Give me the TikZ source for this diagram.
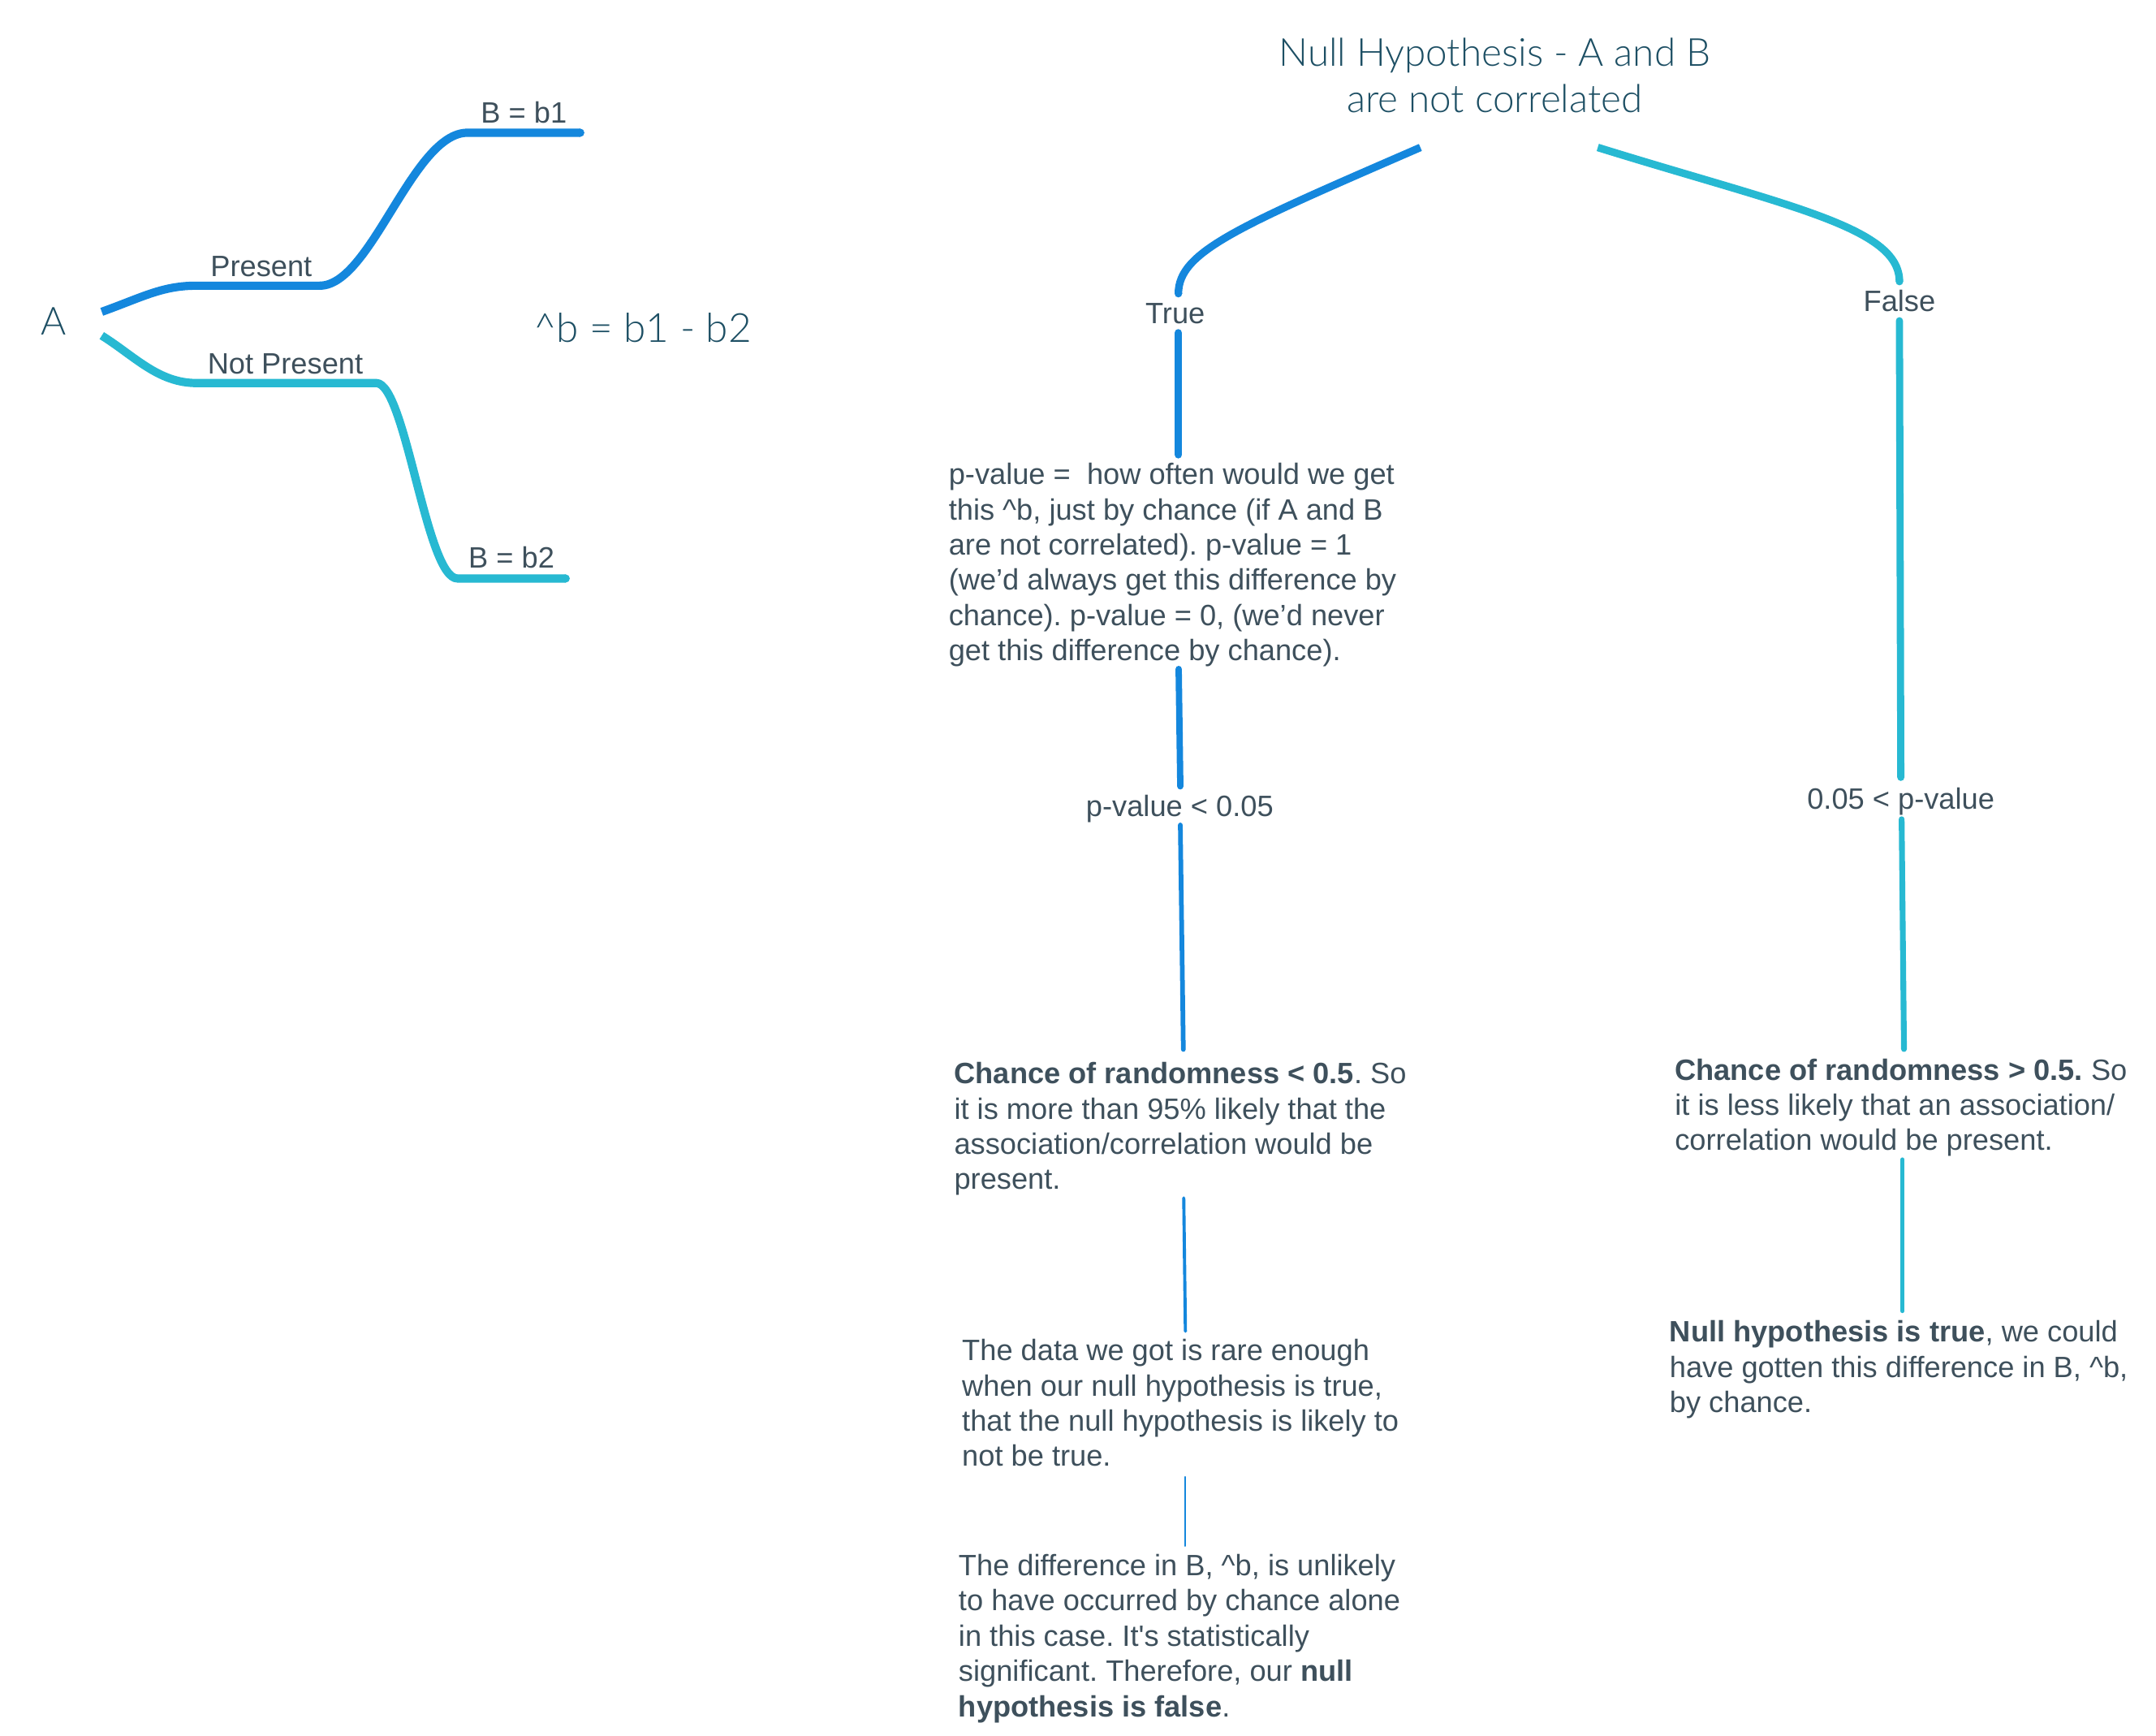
\documentclass[tikz,border=0pt]{standalone}
\usepackage{fontspec}
\setmainfont{Liberation Sans}
\IfFontExistsTF{Lato Light}
  {\newfontfamily\lightfont{Lato Light}}
  {\newfontfamily\lightfont{Liberation Sans}}
\usetikzlibrary{calc}
\frenchspacing

\definecolor{branchblue}{HTML}{1487DD}
\definecolor{branchcyan}{HTML}{27B9D2}
\definecolor{labelgray}{HTML}{3E505C}
\definecolor{headteal}{HTML}{1D4F64}

\begin{document}
\begin{tikzpicture}[x=1pt,y=-1pt,
  lbl/.style={inner sep=0pt, outer sep=0pt, text=labelgray,
              font=\fontsize{21.4}{25.6}\selectfont},
  para/.style={lbl, align=left, anchor=north west},
  head/.style={inner sep=0pt, outer sep=0pt, text=headteal,
               font=\lightfont\fontsize{28.1}{33.5}\selectfont},
  bblue/.style={draw=branchblue, line cap=round, line join=round},
  bcyan/.style={draw=branchcyan, line cap=round, line join=round},
]
\useasboundingbox[fill=white] (0,0) rectangle (1568,1262);

% ---------- left mind map: A -> Present / Not Present ----------
\node[head, anchor=base] (a) at (38.9,243.6) {A};
\node[lbl, anchor=base] (present) at (190,201) {Present};
\node[lbl, anchor=base] (notpresent) at (207.5,272.1) {Not Present};
\node[lbl, anchor=base] (bone) at (381,89.7) {B = b1};
\node[lbl, anchor=base] (btwo) at (372,413) {B = b2};
\node[head, anchor=base west, font=\lightfont\fontsize{29.2}{34}\selectfont]
  (bhat) at (388,248.9) {\textasciicircum b = b1 - b2};

\coordinate (aup)   at ($(a.base)+(35.1,-16.9)$);
\coordinate (adown) at ($(a.base)+(35.1,0.4)$);

\draw[bblue, line width=6pt, line cap=butt]
  (aup) .. controls +(30,-10.8) and +(-25,0) .. ($(present.base)+(-47,6.7)$)
  -- ($(present.base)+(42.6,6.7)$)
  .. controls +(37.4,0) and +(-40,0) .. ($(bone.base)+(-41,6.8)$)
  -- ($(bone.base)+(41,6.8)$) coordinate (bonend);
\fill[branchblue] (bonend) circle[radius=3pt];

\draw[bcyan, line width=6pt, line cap=butt]
  (adown) .. controls +(24,15) and +(-28,0) .. ($(notpresent.base)+(-64.5,6.4)$)
  -- ($(notpresent.base)+(66.2,6.4)$)
  .. controls +(21.3,0) and +(-22.7,0) .. ($(btwo.base)+(-39.3,7.6)$)
  -- ($(btwo.base)+(39.4,7.6)$) coordinate (btwoend);
\fill[branchcyan] (btwoend) circle[radius=3pt];

% ---------- right mind map: null hypothesis ----------
\node[head, align=center, anchor=north] (null) at (1087,24.75)
  {\strut Null Hypothesis - A and B\\are not correlated};

\node[lbl, anchor=base] (truelbl) at (854.7,235.1) {True};
\node[lbl, anchor=base] (falselbl) at (1381.4,226.3) {False};

\node[para] (pdef) at (690,334.4)
  {\strut p-value =\ \ how often would we get\\
   this \textasciicircum b, just by chance (if A and B\\
   are not correlated). p-value = 1\\
   (we’d always get this difference by\\
   chance). p-value = 0, (we’d never\\
   get this difference by chance).};

\node[lbl, anchor=base] (pless) at (858,593.7) {p-value < 0.05};
\node[lbl, anchor=base] (pgreat) at (1382.4,588.2) {0.05 < p-value};

\node[para] (chlow) at (694,770.1)
  {\strut\textbf{Chance of randomness < 0.5}. So\\
   it is more than 95\% likely that the\\
   association/correlation would be\\
   present.};

\node[para] (data) at (699.7,971.3)
  {\strut The data we got is rare enough\\
   when our null hypothesis is true,\\
   that the null hypothesis is likely to\\
   not be true.};

\node[para] (diff) at (697.2,1127.7)
  {\strut The difference in B, \textasciicircum b, is unlikely\\
   to have occurred by chance alone\\
   in this case. It\textquotesingle s statistically\\
   significant. Therefore, our \textbf{null}\\
   \textbf{hypothesis is false}.};

\node[para] (chhigh) at (1218.1,767.4)
  {\strut\textbf{Chance of randomness > 0.5.} So\\
   it is less likely that an association/\\
   correlation would be present.};

\node[para] (nulltrue) at (1214.3,957.8)
  {\strut\textbf{Null hypothesis is true}, we could\\
   have gotten this difference in B, \textasciicircum b,\\
   by chance.};

% title branches
\draw[bblue, line width=5.5pt, line cap=butt]
  ($(null.north)+(-54,82.45)$) .. controls +(-133,57.8) and +(0,-30.5) ..
  ($(truelbl.base)+(2.3,-21.6)$) coordinate (trueend);
\fill[branchblue] (trueend) circle[radius=2.75pt];

\draw[bcyan, line width=5.5pt, line cap=butt]
  ($(null.north)+(75,82.45)$) .. controls +(138,42.8) and +(0,-39.7) ..
  ($(falselbl.base)+(0,-21.6)$) coordinate (falseend);
\fill[branchcyan] (falseend) circle[radius=2.75pt];

% true side
\draw[bblue, line width=5.5pt]
  ($(truelbl.base)+(2.3,6.9)$) -- ($(pdef.north west)+(167,-3.8)$);
\draw[bblue, line width=4.6pt]
  ($(pdef.north west)+(167.2,152)$) -- ($(pless.base)+(0.4,-22)$);
\draw[bblue, line width=3.4pt]
  ($(pless.base)+(0.4,6.1)$) -- ($(chlow.north west)+(166.6,-7.1)$);
\draw[bblue, line width=2.3pt]
  ($(chlow.north west)+(166.9,100.9)$) -- ($(data.north west)+(162.4,-3.4)$);
\draw[bblue, line width=1.3pt]
  ($(data.north west)+(162.3,102.5)$) -- ($(diff.north west)+(164.8,-3.7)$);

% false side
\draw[bcyan, line width=5.2pt]
  ($(falselbl.base)+(0,6.9)$) -- ($(pgreat.base)+(0,-23)$);
\draw[bcyan, line width=4.2pt]
  ($(pgreat.base)+(0.6,7.4)$) -- ($(chhigh.north west)+(166.6,-4.7)$);
\draw[bcyan, line width=3pt]
  ($(chhigh.north west)+(165.5,75.6)$) -- ($(nulltrue.north west)+(169.3,-4.6)$);
\end{tikzpicture}
\end{document}
